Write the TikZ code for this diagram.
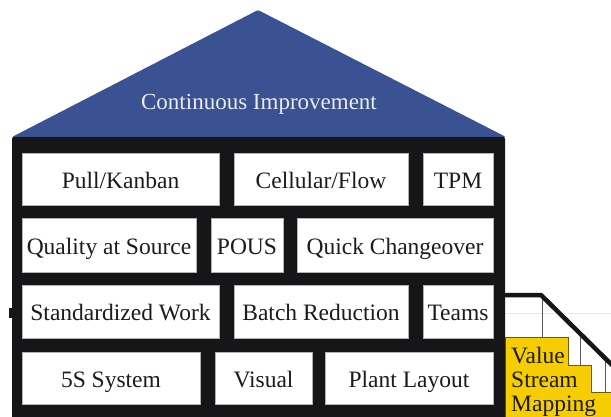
\documentclass[tikz,border=0pt]{standalone}
\usepackage{fontspec}
\setmainfont{Liberation Serif}
\newfontfamily\housefont{Liberation Serif}
\definecolor{roofblue}{RGB}{58,82,145}
\definecolor{wallblack}{RGB}{22,22,24}
\definecolor{stepyellow}{RGB}{246,205,0}
\definecolor{stepedge}{RGB}{110,92,10}
\definecolor{inktext}{RGB}{28,28,28}
\tikzset{
  brick/.style={draw=gray!60, line width=0.8pt, fill=white, inner sep=0pt,
    text height=18.6pt, text depth=0pt,
    text=inktext, font=\housefont\fontsize{23.5}{27}\selectfont},
  rooflabel/.style={text=white!92!black, inner sep=0pt, text height=18.4pt, text depth=0pt,
    font=\housefont\fontsize{23}{27}\selectfont},
  rail/.style={line width=4.5pt, draw=wallblack, line join=round},
  baluster/.style={line width=1pt, draw=gray!70!black},
}
\begin{document}
\begin{tikzpicture}[x=1pt,y=-1pt]
\useasboundingbox (0,0) rectangle (611,417);
\fill[white] (0,0) rectangle (611,417);

% faint guide line behind the stairs
\draw[gray!18, line width=0.6pt] (505,313) -- (611,313);

% stair railing and balusters
\draw[baluster] (542,297) -- (542,337);
\draw[baluster] (580,333) -- (580,365);
\draw[baluster] (605,358) -- (605,392);
\draw[rail] (503,295) -- (541,295) -- (614,367);

% yellow steps
\filldraw[fill=stepyellow, draw=stepedge, line width=0.8pt]
  (505,337) -- (568,337) -- (568,365) -- (591,365) -- (591,392)
  -- (612,392) -- (612,418) -- (505,418) -- cycle;
\node[anchor=north west, align=left, inner sep=0pt, text=inktext,
      font=\housefont\fontsize{23.5}{24}\selectfont] (vsm) at (511,347)
  {Value\\Stream\\Mapping};

% house wall
\fill[wallblack, rounded corners=3pt] (12,420) -- (12,136) -- (505,136) -- (505,420);
\fill[wallblack] (9,308) rectangle (12,318);

% roof
\fill[roofblue, rounded corners=1.5pt] (12,137) -- (258,10) -- (506,137) -- cycle;
\node[rooflabel] (roof) at (259,100) {Continuous Improvement};

% first row
\node[brick, minimum width=197pt, minimum height=52pt] (pull)  at (120.5,179) {Pull/Kanban};
\node[brick, minimum width=174pt, minimum height=52pt] (cell)  at (321,179)   {Cellular/Flow};
\node[brick, minimum width=70pt,  minimum height=52pt] (tpm)   at (458,179)   {TPM};
% second row
\node[brick, minimum width=174pt, minimum height=54pt] (qas)   at (109,245)   {Quality at Source};
\node[brick, minimum width=72pt,  minimum height=54pt] (pous)  at (247,245)   {POUS};
\node[brick, minimum width=196pt, minimum height=54pt] (quick) at (395,245)   {Quick Changeover};
% third row
\node[brick, minimum width=197pt, minimum height=53pt] (std)   at (120.5,311.5) {Standardized Work};
\node[brick, minimum width=174pt, minimum height=53pt] (batch) at (321,311.5)   {Batch Reduction};
\node[brick, minimum width=70pt,  minimum height=53pt] (teams) at (458,311.5)   {Teams};
% fourth row
\node[brick, minimum width=178pt, minimum height=52pt] (fives) at (111,378)   {5S System};
\node[brick, minimum width=97pt,  minimum height=52pt] (vis)   at (263.5,378) {Visual};
\node[brick, minimum width=168pt, minimum height=52pt] (plant) at (409,378)   {Plant Layout};
\end{tikzpicture}
\end{document}
